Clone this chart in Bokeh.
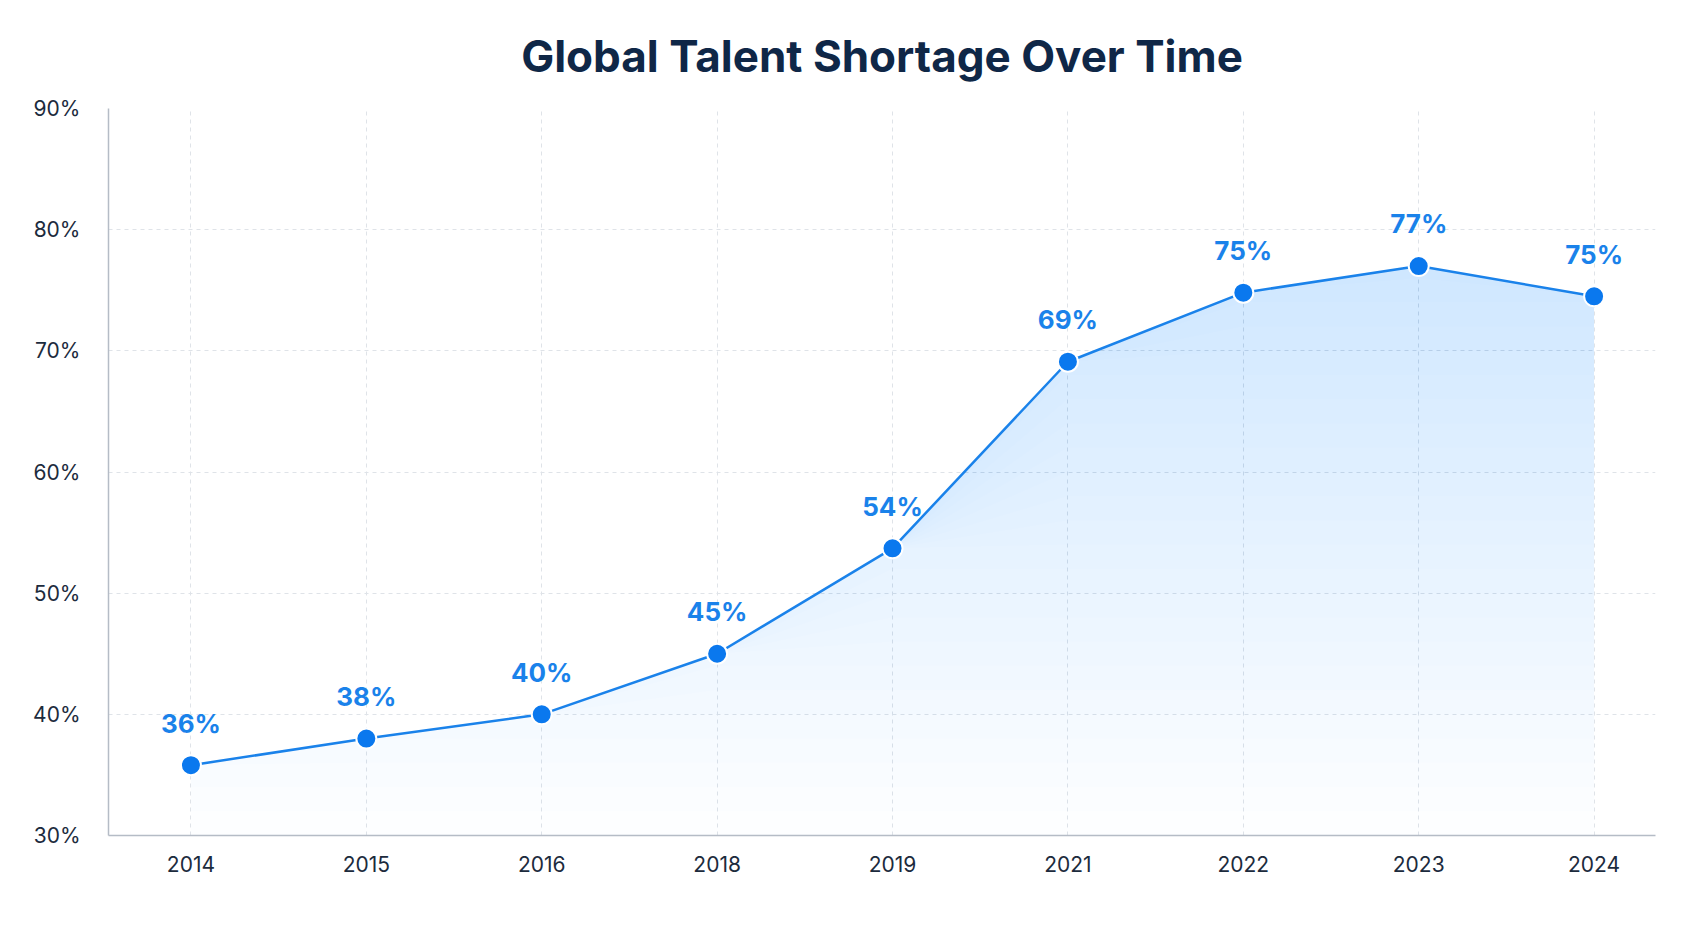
import numpy as np
from bokeh.plotting import figure
from bokeh.models import Range1d, FixedTicker, ColumnDataSource
from bokeh.embed import file_html
from bokeh.resources import INLINE
from bokeh.core.properties import value

years = ["2014", "2015", "2016", "2018", "2019", "2021", "2022", "2023", "2024"]
shortage = [35.8, 38.0, 40.0, 45.0, 53.7, 69.1, 74.8, 77.0, 74.5]
labels = ["36%", "38%", "40%", "45%", "54%", "69%", "75%", "77%", "75%"]
y_ticks = [30, 40, 50, 60, 70, 80, 90]

x = list(range(len(years)))
p = figure(width=1677, height=913, output_backend="svg", toolbar_location=None,
           x_range=Range1d(-0.47, 8.35), y_range=Range1d(30, 90),
           min_border_left=108, min_border_right=22, min_border_top=40, min_border_bottom=78)
p.title.text = "Global Talent Shortage Over Time"
p.title.align = "center"
p.title.text_font = "Inter"
p.title.text_font_size = "44px"
p.title.text_color = "#0f2747"
p.title.standoff = 52
p.outline_line_color = None

vals = np.array(shortage)
for lvl in np.arange(30, 78, 2.0):
    p.varea(x=x, y1=np.minimum(vals, lvl), y2=vals, fill_color="#1e88f0", fill_alpha=0.006)

p.line(x, shortage, line_color="#1a82ea", line_width=2.5)
p.scatter(x, shortage, size=20, fill_color="#0a78ee", line_color="white", line_width=2)
src = ColumnDataSource(dict(x=x, y=[v + 2.2 for v in shortage], t=labels))
p.text("x", "y", "t", source=src, text_align="center", text_baseline="bottom",
       text_font=value("Inter"), text_font_size="26px", text_color="#1a82ea", text_font_style="bold")

p.xaxis.ticker = FixedTicker(ticks=x)
p.xaxis.major_label_overrides = {i: y for i, y in enumerate(years)}
p.yaxis.ticker = FixedTicker(ticks=y_ticks)
p.yaxis.major_label_overrides = {t: f"{t}%" for t in y_ticks}
for ax in (p.xaxis, p.yaxis):
    ax.axis_line_color = "#b5bcc6"
    ax.axis_line_width = 1.5
    ax.major_tick_line_color = None
    ax.minor_tick_line_color = None
    ax.major_label_text_font = "Inter"
    ax.major_label_text_font_size = "21px"
    ax.major_label_text_color = "#1c2b3d"
p.xaxis.major_label_standoff = 14
p.yaxis.major_label_standoff = 22
for g in (p.xgrid, p.ygrid):
    g.grid_line_color = "#dfe3e8"
    g.grid_line_dash = "4 4"

open("out.html", "w").write(file_html(p, INLINE))
